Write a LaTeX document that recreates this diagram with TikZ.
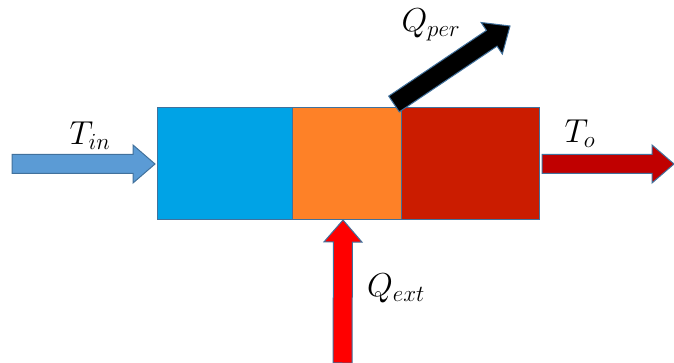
\documentclass[tikz,border=0pt]{standalone}
\usetikzlibrary{calc}
\DeclareMathSizes{24}{24}{18}{14}
\definecolor{edge}{HTML}{41719C}
\definecolor{coldblue}{HTML}{00A3E6}
\definecolor{midorange}{HTML}{FE8127}
\definecolor{hotred}{HTML}{CB1C00}
\definecolor{inblue}{HTML}{5B9BD5}
\definecolor{outred}{HTML}{C00000}
\definecolor{heatred}{HTML}{FF0000}
\tikzset{
  cell/.style={draw=edge, line width=0.75pt, minimum height=84pt,
    inner sep=0pt, outer sep=0pt, anchor=north west},
  flow/.style={draw=edge, line width=0.75pt, line join=miter},
  lbl/.style={font=\fontsize{24}{28}\selectfont, inner sep=0pt},
}
% Block arrow: #1 style, #2 tail point, #3 tip point
\newcommand\blockarrow[3]{%
  \coordinate (ba-h) at ($(#3)!16.5pt!(#2)$);
  \path[#1] ($(#2)!7.125pt!90:(#3)$) -- ($(ba-h)!7.125pt!90:(#3)$)
    -- ($(ba-h)!14.25pt!90:(#3)$) -- (#3)
    -- ($(ba-h)!14.25pt!-90:(#3)$) -- ($(ba-h)!7.125pt!-90:(#3)$)
    -- ($(#2)!7.125pt!-90:(#3)$) -- cycle;
}
\begin{document}
\begin{tikzpicture}[x=0.75pt,y=-0.75pt]
\useasboundingbox (0,0) rectangle (674,363);
% three zones of the tank
\node[cell, fill=coldblue, minimum width=101.25pt] (cold) at (157,108) {};
\node[cell, fill=midorange, minimum width=81.75pt] (mid) at (cold.north east) {};
\node[cell, fill=hotred, minimum width=103.5pt] (hot) at (mid.north east) {};
% arrow end points
\coordinate (inlet) at (12,164);
\coordinate (intip) at ($(cold.west)+(-2,0)$);
\coordinate (outbase) at ($(hot.east)+(3,0)$);
\coordinate (outlet) at ($(hot.east)+(135,0)$);
\coordinate (source) at (342.5,363);
\coordinate (sink) at ($(cold.south west)!0.487!(hot.south east)$);
\coordinate (lossbase) at (394,104);
\coordinate (losstip) at (510,26);
% flows
\blockarrow{flow, fill=inblue}{inlet}{intip}
\blockarrow{flow, fill=outred}{outbase}{outlet}
\blockarrow{flow, fill=heatred}{source}{sink}
\blockarrow{flow, fill=black}{lossbase}{losstip}
% labels
\node[lbl] (tin) at (90,136) {$T_{in}$};
\node[lbl] (tout) at (580,134) {$T_{o}$};
\node[lbl] (qper) at (431,25) {$Q_{per}$};
\node[lbl] (qext) at (396,288) {$Q_{ext}$};
\end{tikzpicture}
\end{document}
